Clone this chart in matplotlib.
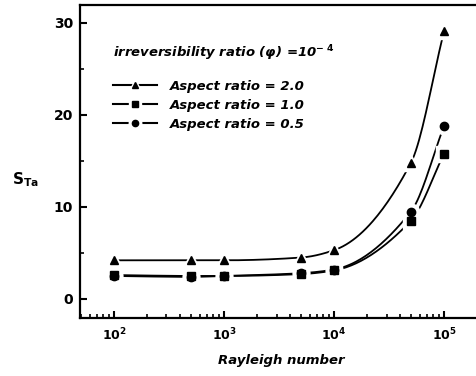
import matplotlib
import matplotlib.pyplot as plt
import numpy as np
from matplotlib.lines import Line2D
from matplotlib.legend_handler import HandlerTuple

matplotlib.use('Agg')

plt.rcParams['font.family'] = ['DejaVu Sans']
plt.rcParams['mathtext.fontset'] = 'custom'
plt.rcParams['mathtext.rm'] = 'DejaVu Sans:bold'
plt.rcParams['mathtext.bf'] = 'DejaVu Sans:bold'
plt.rcParams['mathtext.it'] = 'DejaVu Sans:bold:italic'

rayleigh = [1e2, 5e2, 1e3, 5e3, 1e4, 5e4, 1e5]
s_ar20 = [4.2, 4.2, 4.2, 4.5, 5.3, 14.8, 29.1]
s_ar10 = [2.6, 2.5, 2.5, 2.7, 3.1, 8.5, 15.8]
s_ar05 = [2.5, 2.4, 2.5, 2.8, 3.2, 9.5, 18.8]
labels = ['Aspect ratio = 2.0', 'Aspect ratio = 1.0', 'Aspect ratio = 0.5']
markers = ['^', 's', 'o']
xtick_vals = [1e2, 1e3, 1e4, 1e5]
xtick_labels = [r'$\mathbf{10^{2}}$', r'$\mathbf{10^{3}}$', r'$\mathbf{10^{4}}$', r'$\mathbf{10^{5}}$']


def smooth(x, y, n=200):
    """Monotone cubic (Fritsch-Carlson) curve through the points, in log-x."""
    lx = np.log10(np.asarray(x, float))
    y = np.asarray(y, float)
    h = np.diff(lx)
    d = np.diff(y) / h
    m = np.zeros_like(y)
    m[0], m[-1] = d[0], d[-1]
    for i in range(1, len(y) - 1):
        if d[i - 1] * d[i] > 0:
            w1 = 2 * h[i] + h[i - 1]
            w2 = h[i] + 2 * h[i - 1]
            m[i] = (w1 + w2) / (w1 / d[i - 1] + w2 / d[i])
    xs = np.linspace(lx[0], lx[-1], n)
    idx = np.clip(np.searchsorted(lx, xs) - 1, 0, len(h) - 1)
    t = (xs - lx[idx]) / h[idx]
    h00 = 2 * t**3 - 3 * t**2 + 1
    h10 = t**3 - 2 * t**2 + t
    h01 = -2 * t**3 + 3 * t**2
    h11 = t**3 - t**2
    ys = h00 * y[idx] + h10 * h[idx] * m[idx] + h01 * y[idx + 1] + h11 * h[idx] * m[idx + 1]
    return 10**xs, ys


fig = plt.figure(figsize=(4.76, 3.76), dpi=100)
ax = fig.add_axes([80 / 476, 58 / 376, 402 / 476, 313 / 376])

series = [s_ar20, s_ar10, s_ar05]
handles = []
for vals, mk in zip(series, markers):
    xs, ys = smooth(rayleigh, vals)
    ax.plot(xs, ys, color='k', lw=1.3, zorder=2)
    ms = 5.5 if mk == 's' else 6
    ax.plot(rayleigh, vals, ls='none', marker=mk, ms=ms + 6, color='white', mec='white', zorder=3)
    handles.append((Line2D([], [], color='k', lw=1.5),
                    Line2D([], [], ls='none', marker=mk, ms=ms + 3, color='white', mec='white'),
                    Line2D([], [], ls='none', marker=mk, ms=ms - 1.5, color='k', mec='k')))
for vals, mk in zip(series, markers):
    ms = 5.5 if mk == 's' else 6
    ax.plot(rayleigh, vals, ls='none', marker=mk, ms=ms, color='k', mec='k', zorder=4)

ax.set_xscale('log')
ax.set_xlim(10**1.691, 10**5.345)
ax.set_ylim(-2.07, 31.95)
ax.set_xticks(xtick_vals)
ax.set_xticklabels(xtick_labels, fontsize=9)
ax.set_yticks([0, 10, 20, 30])
ax.set_yticks([5, 15, 25], minor=True)
ax.tick_params(axis='both', which='major', direction='in', length=5, width=1.5)
ax.tick_params(axis='y', labelsize=10, pad=5)
ax.tick_params(axis='both', which='minor', direction='in', length=3, width=1.2)
ax.tick_params(axis='x', pad=6)
for lbl in ax.get_yticklabels():
    lbl.set_fontweight('bold')
for sp in ax.spines.values():
    sp.set_linewidth(1.6)

ax.set_xlabel('Rayleigh number', fontsize=9.5, fontweight='bold', fontstyle='italic', labelpad=8)
fig.text(12 / 476, 1 - 180 / 376, r'S$_{\mathrm{Ta}}$', fontsize=11, fontweight='bold',
         ha='left', va='center')

ax.text(113 / 476, 1 - 53 / 376, r'irreversibility ratio ($\varphi$) =10$^{\mathit{-\ 4}}$',
        transform=fig.transFigure, fontsize=9.5, fontweight='bold', fontstyle='italic',
        ha='left', va='center')

ax.legend(handles, labels, handler_map={tuple: HandlerTuple(ndivide=1)},
          loc='upper left', bbox_to_anchor=(113 / 476, 1 - 80 / 376),
          bbox_transform=fig.transFigure, frameon=False, borderpad=0, borderaxespad=0,
          handlelength=3.3, handletextpad=1.0, labelspacing=0.45,
          prop={'size': 9.5, 'weight': 'bold', 'style': 'italic'})

fig.savefig('out.png', dpi=100)
